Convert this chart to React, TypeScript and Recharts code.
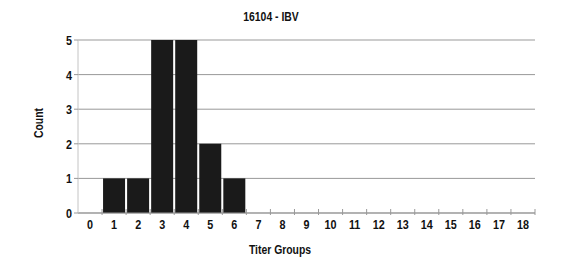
import React from 'react';
import { BarChart, Bar, XAxis, YAxis, CartesianGrid } from 'recharts';

const titerGroups = ['0', '1', '2', '3', '4', '5', '6', '7', '8', '9', '10', '11', '12', '13', '14', '15', '16', '17', '18'];
const counts = [0, 1, 1, 5, 5, 2, 1, 0, 0, 0, 0, 0, 0, 0, 0, 0, 0, 0, 0];
const countTicks = [0, 1, 2, 3, 4, 5];

const data = titerGroups.map((g, i) => ({ group: g, count: counts[i] }));

const W = 568;
const H = 259;
const margin = { top: 40, right: 33, bottom: 0, left: 0 };
const yAxisWidth = 78;
const plotWidth = W - margin.left - margin.right - yAxisWidth;
const band = plotWidth / titerGroups.length;
const font = '"Liberation Sans", Arial, sans-serif';
const squeeze = 0.8;

// narrow bold text (Arial Narrow look) by squeezing Liberation Sans
const NarrowText = ({ x, y, anchor = 'middle', size = 12, children }: any) => (
  <text
    transform={`translate(${x},${y}) scale(${squeeze},1)`}
    textAnchor={anchor}
    fontSize={size}
    fontWeight="bold"
    fontFamily={font}
    fill="#111"
  >
    {children}
  </text>
);

const GroupTick = (props: any) => {
  const { x, y, payload } = props;
  return (
    <g>
      <line x1={x + band / 2} x2={x + band / 2} y1={y - 4} y2={y + 2} stroke="#999" />
      <NarrowText x={x} y={y + 15.5} size={13.5}>
        {payload.value}
      </NarrowText>
    </g>
  );
};

const CountTick = (props: any) => {
  const { x, y, payload } = props;
  return (
    <NarrowText x={x} y={y + 5} anchor="end" size={13.5}>
      {payload.value}
    </NarrowText>
  );
};

const labelStyle: React.CSSProperties = {
  position: 'absolute',
  fontFamily: font,
  fontWeight: 'bold',
  fontSize: 13,
  lineHeight: '14px',
  color: '#111',
  textAlign: 'center',
  width: 200,
  whiteSpace: 'nowrap',
};

export default function App() {
  return (
    <div style={{ position: 'absolute', left: 0, top: 0, width: W, height: H, background: '#fff' }}>
      <BarChart width={W} height={H} data={data} margin={margin} barCategoryGap={1}>
        <CartesianGrid vertical={false} stroke="#999" />
        <XAxis
          dataKey="group"
          height={46}
          tickSize={0}
          tickMargin={0}
          tick={<GroupTick />}
          axisLine={{ stroke: '#999' }}
          interval={0}
        />
        <YAxis
          width={yAxisWidth}
          domain={[0, 5]}
          ticks={countTicks}
          tickSize={4}
          tickMargin={2}
          tickLine={{ stroke: '#999' }}
          axisLine={{ stroke: '#c4c4c4' }}
          tick={<CountTick />}
        />
        <Bar dataKey="count" fill="#1a1a1a" isAnimationActive={false} />
      </BarChart>
      <div style={{ ...labelStyle, left: 271 - 100, top: 10, transform: `scaleX(${squeeze})` }}>16104 - IBV</div>
      <div style={{ ...labelStyle, left: 280 - 100, top: 243, transform: `scaleX(${squeeze})` }}>Titer Groups</div>
      <div style={{ ...labelStyle, left: 39 - 100, top: 123 - 7, transform: `rotate(-90deg) scaleX(${squeeze})` }}>Count</div>
    </div>
  );
}
